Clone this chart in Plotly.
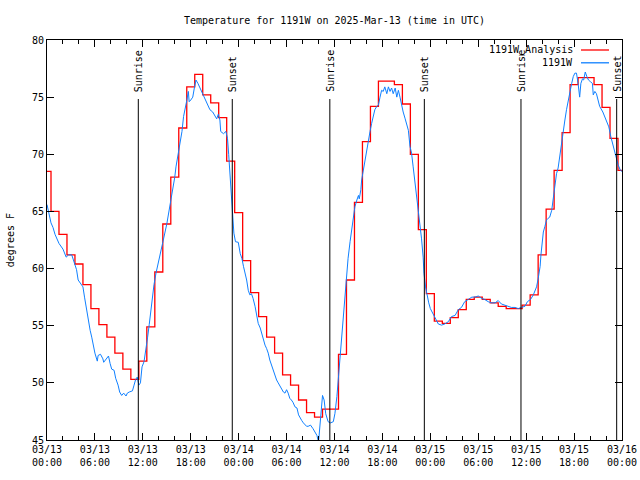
import plotly.graph_objects as go
import pandas as pd

start = pd.Timestamp("2025-03-13 00:00")

# Hourly analysis values (03/13 00:00 .. 03/16 00:00)
analysis_hours = list(range(73))
analysis_temps = [
    68.5, 65.0, 63.0, 61.2, 60.4, 58.6, 56.5, 55.1, 54.0, 52.6,
    51.2, 50.3, 51.9, 54.9, 59.7, 63.9, 68.0, 72.3, 75.9, 77.0,
    75.2, 74.5, 73.2, 69.4, 64.9, 60.7, 57.9, 55.8, 54.0, 52.6,
    50.7, 49.8, 48.5, 47.4, 47.0, 47.7, 47.7, 52.5, 59.0, 65.8,
    71.1, 74.2, 76.4, 76.4, 76.1, 74.4, 70.0, 63.4, 57.8, 55.4,
    55.2, 55.7, 56.4, 57.3, 57.5, 57.3, 57.0, 56.7, 56.5, 56.5,
    56.8, 57.7, 61.2, 65.2, 68.6, 71.9, 76.1, 76.7, 76.7, 76.1,
    74.1, 71.4, 68.6,
]

# Observations (hours since 03/13 00:00 UTC)
obs_hours = [
    0.0, 0.25, 0.5, 0.75, 1.0, 1.5, 2.0, 2.4, 2.7, 3.1, 3.5, 3.7, 3.9, 4.2, 4.5, 4.7, 4.9,
    5.1, 5.4, 5.6, 5.8, 6.0, 6.3, 6.4, 6.7, 7.0, 7.1, 7.4, 7.7, 7.9, 8.1, 8.4, 8.6, 8.9,
    9.1, 9.35, 9.6, 9.9, 10.06, 10.3, 10.7, 10.9, 11.1, 11.3, 11.5, 11.7, 11.9, 12.15,
    12.4, 12.6, 12.8, 13.0, 13.2, 13.4, 13.65, 14.0, 14.5, 15.0, 15.5, 16.0, 16.15,
    16.45, 16.65, 16.9, 17.1, 17.3, 17.5, 17.7, 17.8, 18.0, 18.25, 18.45, 18.65, 18.9,
    19.1, 19.3, 19.5, 19.7, 20.0, 20.2, 20.4, 20.75, 21.0, 21.25, 21.45, 21.65, 21.75,
    22.1, 22.4, 22.6, 22.75, 22.9, 23.1, 23.25, 23.4, 23.6, 23.95, 24.2, 24.4, 24.6,
    24.8, 25.0, 25.2, 25.4, 25.6, 25.8, 26.05, 26.3, 26.45, 26.7, 26.9, 27.1, 27.3,
    27.5, 27.7, 27.9, 28.1, 28.3, 28.55, 28.75, 28.95, 29.2, 29.4, 29.6, 29.8, 30.0,
    30.2, 30.4, 30.6, 30.8, 31.05, 31.3, 31.5, 31.7, 31.9, 32.1, 32.3, 32.5, 32.7,
    33.0, 33.3, 33.55, 33.8, 34.0, 34.2, 34.3, 34.5, 34.7, 34.9, 35.2, 35.5, 35.85,
    36.05, 36.3, 36.5, 36.6, 37.0, 37.35, 37.7, 37.95, 38.15, 38.35, 38.55, 38.8,
    39.0, 39.1, 39.3, 39.4, 39.6, 39.8, 40.0, 40.2, 40.45, 40.65, 40.85, 41.05, 41.3,
    41.5, 41.7, 41.9, 42.1, 42.3, 42.55, 42.75, 42.95, 43.15, 43.35, 43.6, 43.8, 44.0,
    44.2, 44.4, 44.6, 44.85, 45.05, 45.25, 45.45, 45.65, 45.85, 46.1, 46.3, 46.5,
    46.7, 46.9, 47.1, 47.2, 47.4, 47.6, 47.8, 48.0, 48.4, 48.7, 49.0, 49.4, 49.8,
    50.25, 50.65, 51.1, 51.5, 51.9, 52.3, 52.75, 53.2, 53.6, 54.0, 54.4, 54.8, 55.25,
    55.65, 56.1, 56.5, 56.9, 57.3, 57.75, 58.15, 58.6, 59.0, 59.4, 59.85, 60.15,
    60.4, 60.55, 60.9, 61.1, 61.3, 61.5, 61.75, 61.85, 62.0, 62.15, 62.35, 62.55,
    62.75, 62.95, 63.2, 63.35, 63.6, 63.8, 64.0, 64.2, 64.45, 64.65, 64.85, 65.05,
    65.25, 65.5, 65.7, 65.9, 66.1, 66.3, 66.5, 66.7, 66.85, 67.05, 67.2, 67.4, 67.6,
    67.8, 68.05, 68.3, 68.4, 68.6, 68.8, 69.0, 69.2, 69.6, 70.05, 70.35, 70.6, 70.9,
    71.1, 71.3, 71.5, 71.8, 72.0,
]
obs_temps = [
    65.6, 64.7, 64.0, 63.6, 63.0, 62.2, 61.7, 61.0, 61.2, 61.2, 60.3, 59.9, 59.0, 58.7, 58.4, 57.5, 56.7,
    55.6, 54.6, 54.0, 53.2, 52.6, 51.9, 52.4, 52.5, 52.1, 51.8, 52.1, 52.35, 51.7, 51.2, 51.1, 50.4, 49.8,
    49.2, 48.9, 49.1, 48.85, 49.1, 49.2, 49.3, 49.8, 50.3, 50.5, 49.8, 50.0, 51.4, 51.85,
    52.9, 54.0, 55.1, 56.4, 57.5, 58.6, 59.6, 60.6, 62.3, 63.9, 65.8, 68.0, 68.9,
    70.1, 71.0, 72.0, 73.3, 74.2, 74.7, 75.5, 74.6, 74.75, 75.0, 75.8, 76.5, 76.2,
    75.9, 75.5, 75.3, 74.9, 74.6, 74.2, 73.9, 73.7, 73.4, 73.1, 73.5, 73.0, 72.0,
    71.8, 72.0, 71.4, 70.0, 68.6, 66.7, 65.1, 63.1, 62.35, 62.3, 61.3, 60.9, 60.2,
    59.7, 59.0, 58.1, 57.7, 57.8, 57.4, 56.7, 55.9, 55.2, 54.8, 54.3, 53.75, 53.3,
    53.0, 52.6, 52.0, 51.6, 51.1, 50.6, 50.25, 50.0, 49.7, 49.4, 49.2, 49.1, 49.4,
    49.1, 48.65, 48.5, 48.3, 47.9, 47.8, 47.2, 46.9, 46.7, 46.5, 46.3, 46.2, 46.2,
    46.3, 46.0, 45.7, 45.4, 44.8, 46.5, 47.9, 48.9, 48.5, 47.3, 46.6, 46.5, 46.6,
    47.3, 48.8, 50.5, 52.0, 55.5, 58.5, 60.9, 62.35, 63.4, 64.5, 65.4, 66.0,
    66.4, 66.1, 66.9, 67.75, 68.6, 69.5, 70.4, 71.2, 72.0, 72.7, 73.4, 73.9, 74.2,
    74.3, 75.0, 75.6, 75.5, 75.9, 75.3, 75.9, 75.5, 75.8, 75.3, 75.8, 75.0, 75.6,
    75.0, 74.3, 73.7, 73.1, 72.7, 72.1, 70.7, 70.1, 68.9, 67.45, 66.3, 65.1,
    64.0, 62.6, 61.0, 59.6, 58.4, 57.5, 57.0, 56.5, 55.9, 55.5, 55.15, 55.05, 55.15,
    55.35, 55.8, 55.9, 56.4, 56.6, 57.1, 57.3, 57.5, 57.5, 57.6, 57.4, 57.3, 57.1,
    57.0, 57.0, 57.2, 56.9, 56.8, 56.7, 56.6, 56.6, 56.5, 56.6, 56.7, 57.1,
    57.25, 57.3, 57.7, 58.0, 58.4, 59.1, 60.2, 61.2, 62.2, 63.2, 63.7, 64.25,
    64.4, 64.5, 65.1, 66.0, 67.45, 68.3, 68.8, 69.9, 71.2, 72.0, 73.0, 73.9,
    74.75, 75.5, 76.2, 76.8, 77.1, 77.1, 76.2, 75.0, 76.2, 76.6, 76.5, 77.2, 76.8,
    76.5, 76.35, 76.2, 75.2, 75.5, 75.3, 74.6, 74.2, 73.7, 73.0, 72.4, 71.55, 70.7,
    70.1, 69.5, 69.1, 68.6, 68.5,
]

event_times = ["2025-03-13 11:26", "2025-03-13 23:12", "2025-03-14 11:25",
               "2025-03-14 23:15", "2025-03-15 11:21", "2025-03-15 23:20"]
event_labels = ["Sunrise", "Sunset", "Sunrise", "Sunset", "Sunrise", "Sunset"]

series_names = ["1191W_Analysis", "1191W"]
series_colors = ["#ff0000", "#0f80ff"]

FONT = "DejaVu Sans Mono"

a_x = [start + pd.Timedelta(hours=h) for h in analysis_hours]
o_x = [start + pd.Timedelta(hours=h) for h in obs_hours]

fig = go.Figure()
fig.add_trace(go.Scatter(x=a_x, y=analysis_temps, mode="lines", line_shape="hvh",
                         line=dict(color=series_colors[0], width=1.3),
                         name=series_names[0], showlegend=False))
fig.add_trace(go.Scatter(x=o_x, y=obs_temps, mode="lines",
                         line=dict(color=series_colors[1], width=1),
                         name=series_names[1], showlegend=False))

for t, lab in zip(event_times, event_labels):
    fig.add_shape(type="line", xref="x", yref="paper", x0=t, x1=t, y0=0, y1=0.8525,
                  line=dict(color="black", width=1))
    fig.add_annotation(x=t, xref="x", y=0.865, yref="paper", text=lab, textangle=-90,
                       showarrow=False, xanchor="center", yanchor="bottom",
                       font=dict(family=FONT, size=10, color="black"))

# legend (gnuplot style: text left of sample)
leg_y = [0.975, 0.943]
for name, col, yy in zip(series_names, series_colors, leg_y):
    fig.add_annotation(x=0.918, xref="paper", y=yy, yref="paper", text=name,
                       showarrow=False, xanchor="right", yanchor="middle",
                       font=dict(family=FONT, size=10, color="black"))
    fig.add_shape(type="line", xref="paper", yref="paper", x0=0.9287, x1=0.9774,
                  y0=yy, y1=yy, line=dict(color=col, width=1.3))

fig.add_annotation(x=-0.064, xref="paper", y=0.5, yref="paper", text="degrees F",
                   textangle=-90, showarrow=False, xanchor="center", yanchor="middle",
                   font=dict(family=FONT, size=10, color="black"))

fig.update_layout(
    width=640, height=480, autosize=False,
    margin=dict(l=47, r=18, t=40, b=40, autoexpand=False),
    paper_bgcolor="white", plot_bgcolor="white",
    title=dict(text="Temperature for 1191W on 2025-Mar-13 (time in UTC)",
               x=0.5, xref="paper", xanchor="center",
               y=1 - 20 / 480, yref="container", yanchor="middle",
               font=dict(family=FONT, size=10, color="black")),
    font=dict(family=FONT, size=10, color="black"),
    showlegend=False,
)
fig.update_xaxes(
    type="date", range=["2025-03-13 00:00", "2025-03-16 00:00"], automargin=False,
    showgrid=False, zeroline=False, showline=True, linecolor="black", linewidth=1,
    mirror="ticks", ticks="inside", ticklen=7, tickcolor="black",
    dtick=6 * 3600 * 1000, tick0="2025-03-13 00:00", tickformat="%m/%d<br>%H:%M",
    tickfont=dict(family=FONT, size=10, color="black"),
    minor=dict(dtick=2 * 3600 * 1000, ticks="inside", ticklen=4, tickcolor="black", showgrid=False),
)
fig.update_yaxes(
    range=[45, 80], dtick=5, tick0=45, automargin=False,
    showgrid=False, zeroline=False, showline=True, linecolor="black", linewidth=1,
    mirror="ticks", ticks="inside", ticklen=7, tickcolor="black",
    tickfont=dict(family=FONT, size=10, color="black"),
)

post = ("document.body.style.margin='0';document.body.style.overflow='hidden';"
        "var gd=document.getElementById('{plot_id}');"
        "Plotly.relayout(gd,{width:640,height:480});")
fig.write_html("out.html", config={"displayModeBar": False, "responsive": False},
               post_script=post)
